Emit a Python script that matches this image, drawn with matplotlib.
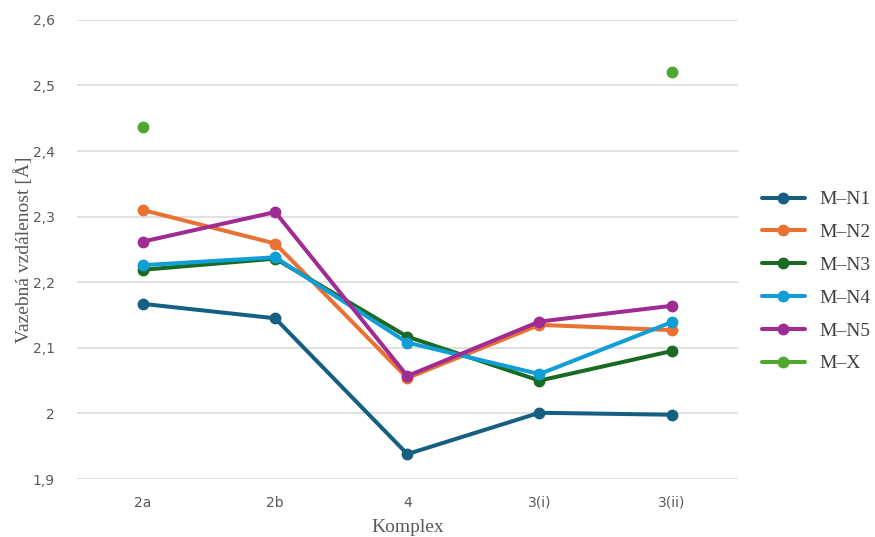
import numpy as np
import matplotlib.pyplot as plt

# komplexy a vazebne vzdalenosti (A)
komplexy = ["2a", "2b", "4", "3(i)", "3(ii)"]
m_n1 = [2.167, 2.145, 1.938, 2.001, 1.998]
m_n2 = [2.310, 2.259, 2.054, 2.135, 2.127]
m_n3 = [2.219, 2.236, 2.117, 2.050, 2.095]
m_n4 = [2.226, 2.238, 2.108, 2.060, 2.139]
m_n5 = [2.262, 2.307, 2.057, 2.140, 2.164]
m_x = [2.436, np.nan, np.nan, np.nan, 2.520]

serie = [
    ("M–N1", m_n1, "#156082"),
    ("M–N2", m_n2, "#E97132"),
    ("M–N3", m_n3, "#196B24"),
    ("M–N4", m_n4, "#0F9ED5"),
    ("M–N5", m_n5, "#A02B93"),
    ("M–X", m_x, "#4EA72E"),
]

fig = plt.figure(figsize=(8.75, 5.37), dpi=100)
ax = fig.add_axes([0.088, 0.108, 0.755, 0.855])

x = np.arange(len(komplexy))
for nazev, hodnoty, barva in serie:
    ax.plot(x, hodnoty, color=barva, linewidth=2.9, marker="o",
            markersize=7.5, label=nazev, solid_capstyle="round")

ax.set_xlim(-0.5, len(komplexy) - 0.5)
ax.set_ylim(1.9, 2.6)
yt = np.round(np.arange(1.9, 2.61, 0.1), 1)
ax.set_yticks(yt)
ax.set_yticklabels([("%g" % v).replace(".", ",") for v in yt])
ax.set_xticks(x)
ax.set_xticklabels(komplexy)

ax.grid(axis="y", color="#d9d9d9", linewidth=1.1)
ax.set_axisbelow(True)
for s in ax.spines.values():
    s.set_visible(False)
ax.tick_params(axis="y", length=0, pad=16, labelsize=10, labelcolor="#595959")
ax.tick_params(axis="x", length=0, pad=12, labelsize=10, labelcolor="#595959")

ax.set_ylabel("Vazebná vzdálenost [Å]", family="Liberation Serif",
              fontsize=14, color="#595959", labelpad=0)
ax.set_xlabel("Komplex", family="Liberation Serif", fontsize=14,
              color="#595959", labelpad=7)

leg = ax.legend(loc="center left", bbox_to_anchor=(1.0, 0.43), frameon=False,
                prop={"family": "Liberation Serif", "size": 14},
                labelspacing=0.78, handlelength=2.2, handletextpad=0.75,
                borderaxespad=0.85)
for t in leg.get_texts():
    t.set_color("#404040")

plt.savefig("out.png")
